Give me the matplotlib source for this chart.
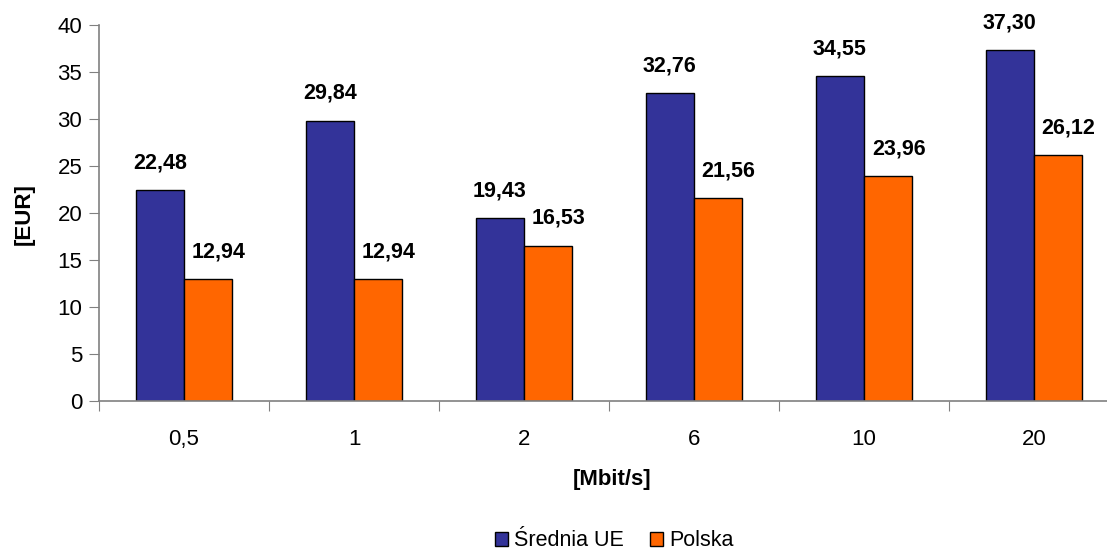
import matplotlib
matplotlib.use("Agg")
import matplotlib.pyplot as plt
import numpy as np

categories = ["0,5", "1", "2", "6", "10", "20"]
srednia_ue = [22.48, 29.84, 19.43, 32.76, 34.55, 37.30]
polska = [12.94, 12.94, 16.53, 21.56, 23.96, 26.12]
series_names = ["Średnia UE", "Polska"]
y_ticks = [0, 5, 10, 15, 20, 25, 30, 35, 40]

plt.rcParams['font.family'] = ['Liberation Sans', 'DejaVu Sans']

W, H = 1107, 551
fig = plt.figure(figsize=(W/100, H/100), dpi=100)
ax = fig.add_axes([99/W, 1-401/H, 1020/W, 376/H])

x = np.arange(len(categories))
bw = 0.285
b1 = ax.bar(x - bw/2, srednia_ue, bw, color="#333399", edgecolor="black", linewidth=1, label=series_names[0])
b2 = ax.bar(x + bw/2, polska, bw, color="#FF6600", edgecolor="black", linewidth=1, label=series_names[1])

def fmt(v):
    return f"{v:.2f}".replace(".", ",")

for bars, vals, dx in ((b1, srednia_ue, 0), (b2, polska, 7.5)):
    for r, v in zip(bars, vals):
        ax.annotate(fmt(v), (r.get_x() + r.get_width()/2, v), xytext=(dx, 12),
                    textcoords="offset points", ha="center", va="bottom",
                    fontsize=15.5, fontweight="bold")

ax.set_xlim(-0.5, len(categories) - 0.5)
ax.set_ylim(0, 40)
ax.set_yticks(y_ticks)
ax.set_yticklabels([str(t) for t in y_ticks], fontsize=16)
ax.set_xticks(np.arange(len(categories)) - 0.5)
ax.set_xticklabels([""] * len(categories))
ax.set_xticks(x, minor=True)
ax.set_xticklabels(categories, minor=True, fontsize=16)
ax.tick_params(axis="x", which="minor", length=0, pad=20)
ax.tick_params(axis="x", which="major", length=7, color="#808080", direction="out")
ax.tick_params(axis="y", length=7, color="#808080", direction="out", pad=5)

for s in ("top", "right"):
    ax.spines[s].set_visible(False)
for s in ("left", "bottom"):
    ax.spines[s].set_color("#808080")
    ax.spines[s].set_linewidth(1.2)

fig.text(612/W, 1-479/H, "[Mbit/s]", ha="center", va="center", fontsize=16, fontweight="bold")
fig.text(24/W, 1-214/H, "[EUR]", ha="center", va="center", fontsize=16, fontweight="bold", rotation=90)

fig.legend(handles=[b1, b2], loc="center", bbox_to_anchor=(614/W, 1-541/H), ncol=2,
           frameon=False, fontsize=15.5, handlelength=0.6, handleheight=0.6,
           handletextpad=0.3, columnspacing=1.2, borderpad=0)

fig.savefig("out.png", dpi=100)
